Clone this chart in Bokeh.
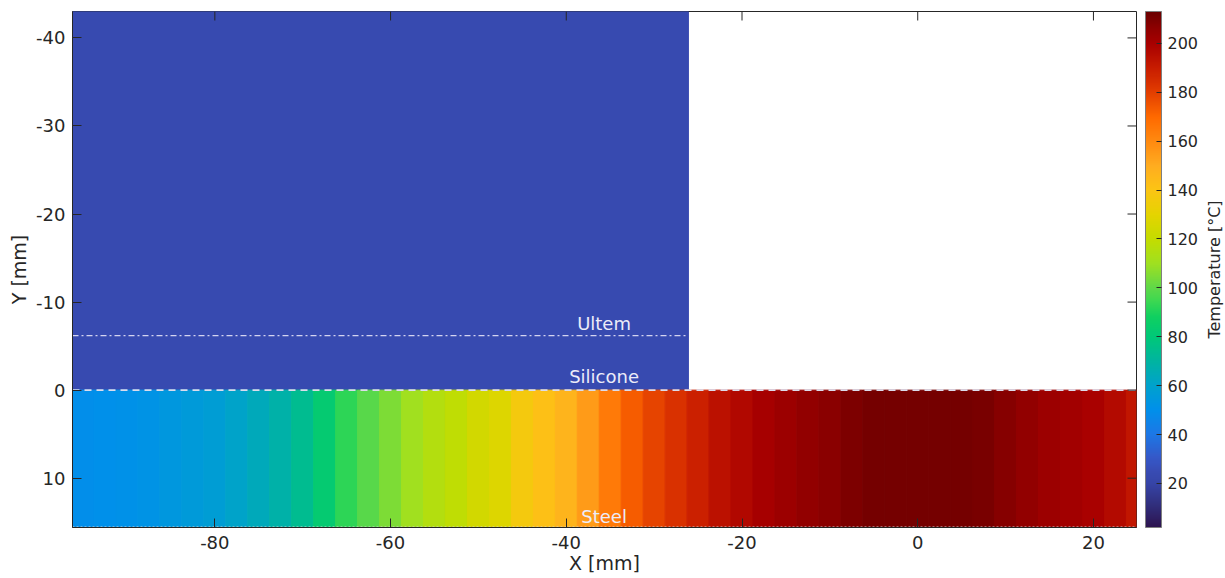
import numpy as np
from bokeh.plotting import figure
from bokeh.layouts import row
from bokeh.models import (Range1d, LinearColorMapper, ColorBar, FixedTicker,
                          LinearAxis, ColumnDataSource)
from bokeh.embed import file_html
from bokeh.resources import INLINE
from bokeh.core.properties import value

# ---------------- data ----------------
x_extent = [-96.2, 24.9]
y_top, y_bottom = -43.0, 15.6

steel_x = [-95.0, -92.5, -90.0, -87.5, -85.0, -82.5, -80.0, -77.5, -75.0, -72.5,
           -70.0, -67.5, -65.0, -62.5, -60.0, -57.5, -55.0, -52.5, -50.0, -47.5,
           -45.0, -42.5, -40.0, -37.5, -35.0, -32.5, -30.0, -27.5, -25.0, -22.5,
           -20.0, -17.5, -15.0, -12.5, -10.0, -7.5, -5.0, -2.5, 0.0, 2.5,
           5.0, 7.5, 10.0, 12.5, 15.0, 17.5, 20.0, 22.5, 25.0]
steel_temp = [49, 50, 51, 52, 54, 56, 58, 61, 64, 68,
              74, 82, 92, 99, 105, 110, 115, 119, 124, 128,
              137, 142, 147, 155, 165, 173, 179, 184, 189, 194,
              197, 200, 203, 205, 207, 209, 211, 211, 211, 211,
              211, 210, 208, 205, 203, 201, 199, 196, 192]
steel_width = 2.5
steel_y = [0.0, 15.6]

ultem_x = [-96.2, -26.1]
ultem_y = [-43.0, 0.0]
ultem_temp = [24]

ultem_line_y = -6.2
silicone_line_y = 0.0
steel_line_y = 15.6

temp_range = [2, 213]
x_ticks = [-80, -60, -40, -20, 0, 20]
y_ticks = [-40, -30, -20, -10, 0, 10]
cbar_ticks = [20, 40, 60, 80, 100, 120, 140, 160, 180, 200]

layer_labels = ["Ultem", "Silicone", "Steel"]
layer_label_x = [-35.7, -35.7, -35.7]
layer_label_y = [-7.6, -1.5, 14.3]

cbar_title = "Temperature [°C]"

# ---------------- palette (style) ----------------
stops = [(2, "#2d1450"), (10, "#302c78"), (20, "#3645a8"), (25, "#384cb4"),
         (30, "#3558c8"), (40, "#1c78e6"), (50, "#0090ea"), (60, "#00a2cc"),
         (70, "#00b4a0"), (80, "#00c878"), (88, "#10d060"), (95, "#40d850"),
         (100, "#60d848"), (110, "#a0e020"), (120, "#c4dc00"), (130, "#e4d400"),
         (140, "#fcc414"), (150, "#ffac20"), (160, "#ff8a10"), (170, "#ff6a00"),
         (180, "#e44000"), (190, "#c81c00"), (200, "#a80000"), (206, "#900000"),
         (213, "#6c0000")]
sv = np.array([s[0] for s in stops], dtype=float)
rgb = np.array([[int(c[1:3], 16), int(c[3:5], 16), int(c[5:7], 16)] for _, c in stops], dtype=float)
grid = np.linspace(temp_range[0], temp_range[1], 256)
palette = []
for g in grid:
    r = np.interp(g, sv, rgb[:, 0]); gg = np.interp(g, sv, rgb[:, 1]); b = np.interp(g, sv, rgb[:, 2])
    palette.append("#%02x%02x%02x" % (int(round(r)), int(round(gg)), int(round(b))))

mapper = LinearColorMapper(palette=palette, low=temp_range[0], high=temp_range[1])

FONT = "DejaVu Sans"
TXT = "#262626"

p = figure(width=1203, height=578,
           x_range=Range1d(x_extent[0], x_extent[1]),
           y_range=Range1d(y_bottom, y_top),
           output_backend="svg", toolbar_location=None,
           min_border_left=72, min_border_top=11, min_border_bottom=51,
           min_border_right=67)
p.background_fill_color = "white"
p.border_fill_color = "white"
p.grid.visible = False
p.outline_line_color = TXT
p.outline_line_width = 1

# Ultem block
usrc = ColumnDataSource(dict(left=[ultem_x[0]], right=[ultem_x[1]], top=[ultem_y[0]],
                             bottom=[ultem_y[1]], t=ultem_temp))
p.quad(left="left", right="right", top="top", bottom="bottom", source=usrc,
       fill_color={"field": "t", "transform": mapper},
       line_color={"field": "t", "transform": mapper}, line_width=1)

# Steel strip
sx = np.array(steel_x)
ssrc = ColumnDataSource(dict(left=sx - steel_width / 2, right=sx + steel_width / 2,
                             top=[steel_y[0]] * len(sx), bottom=[steel_y[1]] * len(sx),
                             t=steel_temp))
p.quad(left="left", right="right", top="top", bottom="bottom", source=ssrc,
       fill_color={"field": "t", "transform": mapper},
       line_color={"field": "t", "transform": mapper}, line_width=1)

# interface lines
p.line(x=[ultem_x[0], ultem_x[1]], y=[ultem_line_y, ultem_line_y],
       line_color="#d4d4f0", line_width=1.3, line_dash="6 3 2 3")
p.line(x=x_extent, y=[silicone_line_y, silicone_line_y],
       line_color="#dcdcec", line_width=1.8, line_dash="7 5")
p.line(x=x_extent, y=[steel_line_y, steel_line_y],
       line_color="#d8d8d8", line_width=1.8, line_dash="2 2")

# layer labels
p.text(x=layer_label_x, y=layer_label_y, text=layer_labels,
       text_font=value(FONT), text_font_size="18px", text_align="center",
       text_baseline="middle", text_color="#ececf8")

# mirrored ticks on top and right edges (inward)
p.ray(x=x_ticks, y=[y_top] * len(x_ticks), length=9, length_units="screen",
      angle=-np.pi / 2, line_color=TXT, line_width=1)
p.ray(x=[x_extent[1]] * len(y_ticks), y=y_ticks, length=9, length_units="screen",
      angle=np.pi, line_color=TXT, line_width=1)

# axes
for ax, ticks in ((p.xaxis[0], x_ticks), (p.yaxis[0], y_ticks)):
    ax.ticker = FixedTicker(ticks=ticks)
    ax.major_label_overrides = {t: str(t) for t in ticks}
    ax.minor_tick_line_color = None
    ax.major_tick_in = 9
    ax.major_tick_out = 0
    ax.major_tick_line_color = TXT
    ax.axis_line_color = TXT
    ax.major_label_text_font = FONT
    ax.major_label_text_font_size = "18px"
    ax.major_label_text_color = TXT
    ax.axis_label_text_font = FONT
    ax.axis_label_text_font_size = "19px"
    ax.axis_label_text_font_style = "normal"
    ax.axis_label_text_color = TXT
p.xaxis.axis_label = "X [mm]"
p.yaxis.axis_label = "Y [mm]"
p.xaxis.major_label_standoff = 8
p.xaxis.axis_label_standoff = 0
p.yaxis.major_label_standoff = 7
p.yaxis.axis_label_standoff = 3

# spacer between frame and colorbar (axis with one invisible outward tick)
gap_ax = LinearAxis(ticker=FixedTicker(ticks=[0]), axis_line_color=None,
                    major_tick_line_alpha=0, minor_tick_line_color=None,
                    major_tick_in=0, major_tick_out=9, minor_tick_out=0,
                    major_label_standoff=0, major_label_overrides={0: ""})
p.add_layout(gap_ax, "right")

# colorbar
cb = ColorBar(color_mapper=mapper, ticker=FixedTicker(ticks=cbar_ticks),
              width=16, padding=0, margin=0, label_standoff=6,
              major_label_overrides={t: str(t) for t in cbar_ticks},
              major_label_text_font=FONT, major_label_text_font_size="16px",
              major_label_text_color=TXT, major_tick_line_color=TXT,
              major_tick_in=5, minor_tick_line_color=None,
              bar_line_color="#7f7f7f", bar_line_width=1,
              background_fill_alpha=0, border_line_color=None)
p.add_layout(cb, "right")

# narrow strip carrying the colorbar title (left-axis label reads bottom-to-top)
q = figure(width=20, height=578, x_range=Range1d(0, 1), y_range=Range1d(0, 1),
           output_backend="svg", toolbar_location=None, x_axis_location=None,
           y_axis_location="left", min_border_left=19, min_border_right=0,
           min_border_top=11, min_border_bottom=51)
q.outline_line_color = None
q.grid.visible = False
q.background_fill_color = "white"
q.border_fill_color = "white"
q.yaxis.ticker = FixedTicker(ticks=[])
q.yaxis.axis_line_color = None
q.yaxis.major_tick_line_color = None
q.yaxis.minor_tick_line_color = None
q.yaxis.major_tick_in = 0
q.yaxis.major_tick_out = 0
q.yaxis.minor_tick_out = 0
q.yaxis.major_label_standoff = 0
q.yaxis.axis_label = cbar_title
q.yaxis.axis_label_standoff = 0
q.yaxis.axis_label_text_font = FONT
q.yaxis.axis_label_text_font_size = "16px"
q.yaxis.axis_label_text_font_style = "normal"
q.yaxis.axis_label_text_color = TXT

layout = row(p, q, spacing=0)
open("out.html", "w").write(file_html(layout, INLINE))
